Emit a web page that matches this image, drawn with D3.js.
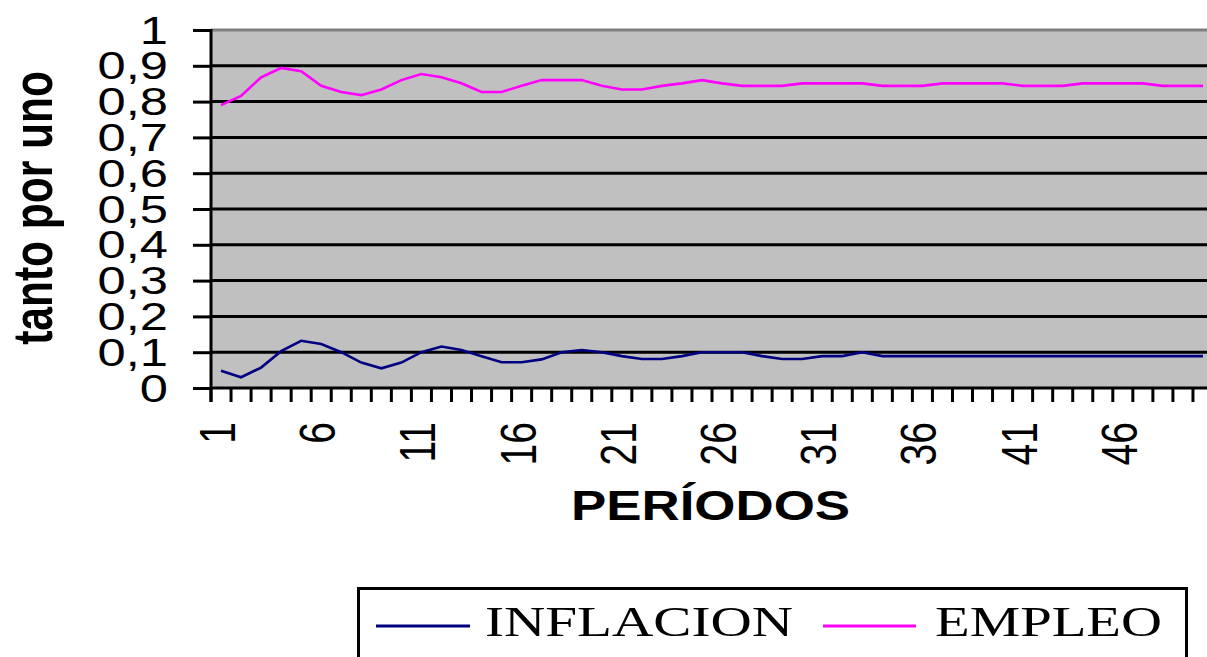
<!DOCTYPE html>
<html>
<head>
<meta charset="utf-8">
<script src="https://cdn.jsdelivr.net/npm/d3@7"></script>
<style>
  html, body { margin: 0; padding: 0; background: #ffffff; overflow: hidden; }
  svg { display: block; }
</style>
</head>
<body>
<svg id="chart" width="1207" height="657"></svg>
<script>
// ---- data ----
const periods = [1,2,3,4,5,6,7,8,9,10,11,12,13,14,15,16,17,18,19,20,
                 21,22,23,24,25,26,27,28,29,30,31,32,33,34,35,36,37,38,39,40,
                 41,42,43,44,45,46,47,48,49,50];
const inflacion = [0.048,0.030,0.057,0.103,0.132,0.123,0.100,0.071,0.055,0.071,
                   0.100,0.116,0.106,0.089,0.072,0.072,0.080,0.100,0.106,0.100,
                   0.089,0.081,0.081,0.089,0.100,0.100,0.100,0.089,0.081,0.081,
                   0.089,0.089,0.100,0.089,0.089,0.089,0.089,0.089,0.089,0.089,
                   0.089,0.089,0.089,0.089,0.089,0.089,0.089,0.089,0.089,0.089];
const empleo = [0.790,0.816,0.868,0.894,0.885,0.844,0.827,0.818,0.834,0.860,
                0.877,0.868,0.851,0.827,0.827,0.844,0.860,0.860,0.860,0.844,
                0.834,0.834,0.844,0.851,0.860,0.851,0.844,0.844,0.844,0.851,
                0.851,0.851,0.851,0.844,0.844,0.844,0.851,0.851,0.851,0.851,
                0.844,0.844,0.844,0.851,0.851,0.851,0.851,0.844,0.844,0.844];
const yTicks = [0,0.1,0.2,0.3,0.4,0.5,0.6,0.7,0.8,0.9,1];
const yTickLabels = ["0","0,1","0,2","0,3","0,4","0,5","0,6","0,7","0,8","0,9","1"];
const xTickLabels = [1,6,11,16,21,26,31,36,41,46];
const seriesNames = ["INFLACION","EMPLEO"];

// ---- layout ----
const svg = d3.select("#chart");
const plotLeft = 211, plotTop = 30, plotBottom = 388, step = 20.04;
const plotRight = plotLeft + periods.length * step;
const SX = 1.3; // horizontal stretch of the original picture

const x = d3.scaleBand().domain(periods).range([plotLeft, plotRight]).padding(0);
const y = d3.scaleLinear().domain([0, 1]).range([plotBottom, plotTop]);
const cx = p => x(p) + x.bandwidth() / 2;

// plot background
svg.append("rect").attr("x", plotLeft).attr("y", plotTop)
  .attr("width", plotRight - plotLeft).attr("height", plotBottom - plotTop)
  .attr("fill", "#c0c0c0");

// gridlines
svg.append("g").selectAll("line").data(yTicks.filter(v => v > 0 && v < 1)).join("line")
  .attr("x1", plotLeft).attr("x2", plotRight)
  .attr("y1", d => y(d)).attr("y2", d => y(d))
  .attr("stroke", "#000").attr("stroke-width", 3);

// top border
svg.append("line").attr("x1", plotLeft).attr("x2", plotRight).attr("y1", y(1)).attr("y2", y(1))
  .attr("stroke", "#808080").attr("stroke-width", 3);

// y axis with ticks
const yAxis = d3.axisLeft(y).tickValues(yTicks).tickSize(18).tickSizeOuter(0).tickFormat("");
const gy = svg.append("g").attr("transform", `translate(${plotLeft},0)`).call(yAxis);
gy.selectAll("path").remove();
gy.selectAll("line").attr("stroke", "#000").attr("stroke-width", 3);

// x axis line
svg.append("line").attr("x1", plotLeft).attr("x2", plotRight).attr("y1", plotBottom).attr("y2", plotBottom)
  .attr("stroke", "#000").attr("stroke-width", 3);
// left axis line (extends down to tick length)
svg.append("line").attr("x1", plotLeft).attr("x2", plotLeft).attr("y1", plotTop - 1).attr("y2", plotBottom + 14)
  .attr("stroke", "#000").attr("stroke-width", 3);
// x ticks between categories
const edges = periods.map(p => x(p)).concat([plotRight]);
svg.append("g").selectAll("line").data(edges).join("line")
  .attr("x1", d => d).attr("x2", d => d)
  .attr("y1", plotBottom).attr("y2", plotBottom + 14)
  .attr("stroke", "#000").attr("stroke-width", 3);

// lines
const line = d3.line().x((d, i) => cx(periods[i])).y(d => y(d));
svg.append("path").datum(inflacion).attr("d", line)
  .attr("fill", "none").attr("stroke", "#000080").attr("stroke-width", 2.6);
svg.append("path").datum(empleo).attr("d", line)
  .attr("fill", "none").attr("stroke", "#ff00ff").attr("stroke-width", 2.6);

// y tick labels
svg.append("g").selectAll("text").data(yTicks).join("text")
  .attr("transform", (d) => `translate(168,${y(d) + 13.5}) scale(${SX},1)`)
  .attr("text-anchor", "end")
  .attr("font-family", "Liberation Sans, Arial, sans-serif")
  .attr("font-size", 39)
  .attr("fill", "#000")
  .text((d, i) => yTickLabels[i]);

// x tick labels (rotated)
svg.append("g").selectAll("text").data(xTickLabels).join("text")
  .attr("transform", d => `translate(${cx(d) + 14},422) scale(${SX},1) rotate(-90)`)
  .attr("text-anchor", "end")
  .attr("font-family", "Liberation Sans, Arial, sans-serif")
  .attr("font-size", 39)
  .attr("fill", "#000")
  .text(d => d);

// y axis title
svg.append("text")
  .attr("transform", `translate(52,208) scale(${SX},1) rotate(-90)`)
  .attr("text-anchor", "middle")
  .attr("font-family", "Liberation Sans, Arial, sans-serif")
  .attr("font-weight", "bold")
  .attr("font-size", 42.5)
  .attr("fill", "#000")
  .text("tanto por uno");

// x axis title
svg.append("text")
  .attr("x", 571).attr("y", 520)
  .attr("textLength", 279).attr("lengthAdjust", "spacingAndGlyphs")
  .attr("font-family", "Liberation Sans, Arial, sans-serif")
  .attr("font-weight", "bold")
  .attr("font-size", 42)
  .attr("fill", "#000")
  .text("PERÍODOS");

// legend
const lg = svg.append("g");
lg.append("rect").attr("x", 358.5).attr("y", 588.5).attr("width", 828).attr("height", 120)
  .attr("fill", "#fff").attr("stroke", "#000").attr("stroke-width", 3);
const legendItems = [
  { name: seriesNames[0], color: "#000080", x1: 376, x2: 470, tx: 485, tl: 308 },
  { name: seriesNames[1], color: "#ff00ff", x1: 823, x2: 916, tx: 935, tl: 227 }
];
legendItems.forEach(it => {
  lg.append("line").attr("x1", it.x1).attr("x2", it.x2).attr("y1", 626).attr("y2", 626)
    .attr("stroke", it.color).attr("stroke-width", 3);
  lg.append("text").attr("x", it.tx).attr("y", 636)
    .attr("textLength", it.tl).attr("lengthAdjust", "spacingAndGlyphs")
    .attr("font-family", "Liberation Serif, Times New Roman, serif")
    .attr("font-size", 42)
    .attr("fill", "#000")
    .text(it.name);
});
</script>
</body>
</html>
